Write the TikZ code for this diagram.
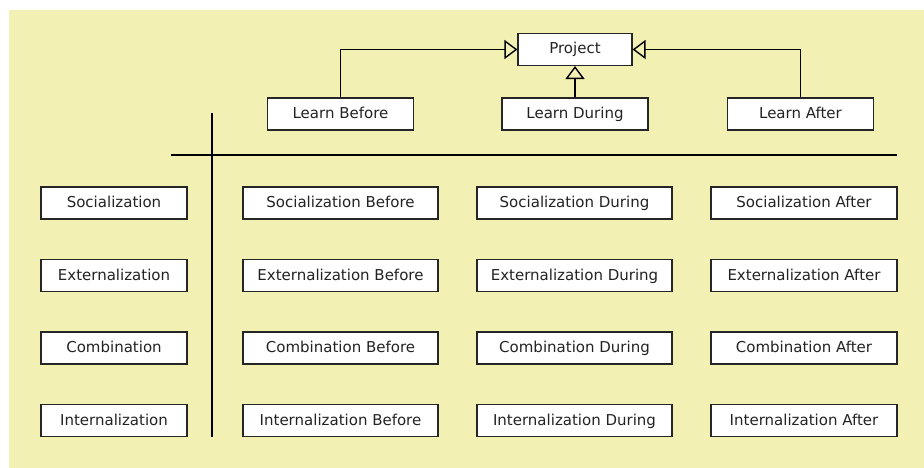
\documentclass[tikz,border=0pt]{standalone}
\usepackage{fontspec}
\setmainfont{DejaVu Sans}
\usetikzlibrary{arrows.meta}
\definecolor{bgyellow}{RGB}{243,240,180}
\definecolor{txt}{RGB}{35,35,35}
\tikzset{
  box/.style={draw=black!85, line width=1.1pt, fill=white, minimum height=32pt, inner sep=0pt, text height=11pt, text depth=2pt, font=\fontsize{15}{17}\selectfont, text=txt},
  colL/.style={box, minimum width=146pt},
  colB/.style={box, minimum width=195pt},
  colD/.style={box, minimum width=195pt},
  colA/.style={box, minimum width=186pt},
  gen/.style={line width=1.4pt, -{Triangle[open, length=13pt, width=19pt, fill=bgyellow]}},
  axis/.style={line width=2.2pt, black}
}
\begin{document}
\begin{tikzpicture}[x=1pt,y=-1pt]
\useasboundingbox (0,0) rectangle (924,468);
\fill[white] (0,0) rectangle (924,468);
\fill[bgyellow] (9,10) rectangle (924,468);

% top hierarchy
\node[box, minimum width=114pt] (proj) at (575,49.5) {Project};
\node[box, minimum width=146pt] (lb) at (340.5,114) {Learn Before};
\node[box, minimum width=146pt] (ld) at (575,114) {Learn During};
\node[box, minimum width=146pt] (la) at (800.5,114) {Learn After};
\draw[gen] (lb.north) |- (proj.west);
\draw[gen] (ld.north) -- (proj.south);
\draw[gen] (la.north) |- (proj.east);

% axes
\coordinate (vt) at (211.7,113);
\coordinate (vb) at (211.7,437);
\coordinate (hl) at (171,155);
\coordinate (hr) at (897,155);
\draw[axis] (vt) -- (vb);
\draw[axis] (hl) -- (hr);

% rows
\node[colL] (s) at (114,203) {Socialization};
\node[colL] (e) at (114,275.5) {Externalization};
\node[colL] (c) at (114,348) {Combination};
\node[colL] (i) at (114,420.5) {Internalization};

\node[colB] (sb) at (340.5,203) {Socialization Before};
\node[colB] (eb) at (340.5,275.5) {Externalization Before};
\node[colB] (cb) at (340.5,348) {Combination Before};
\node[colB] (ib) at (340.5,420.5) {Internalization Before};

\node[colD] (sd) at (574.5,203) {Socialization During};
\node[colD] (ed) at (574.5,275.5) {Externalization During};
\node[colD] (cd) at (574.5,348) {Combination During};
\node[colD] (id) at (574.5,420.5) {Internalization During};

\node[colA] (sa) at (804,203) {Socialization After};
\node[colA] (ea) at (804,275.5) {Externalization After};
\node[colA] (ca) at (804,348) {Combination After};
\node[colA] (ia) at (804,420.5) {Internalization After};
\end{tikzpicture}
\end{document}
